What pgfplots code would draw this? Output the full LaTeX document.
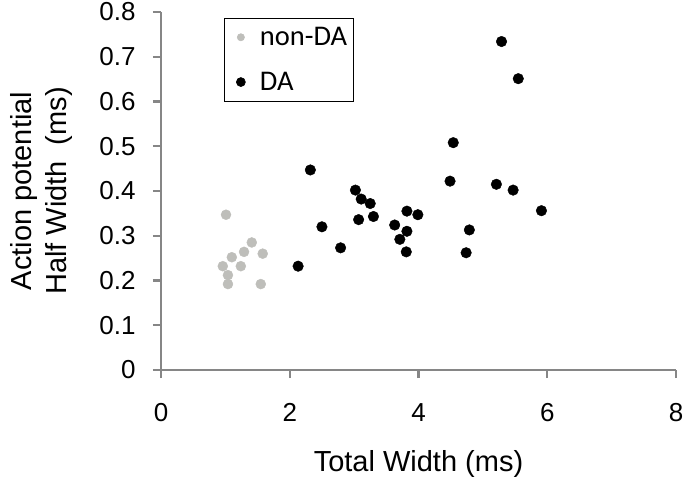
\documentclass[border=0pt]{standalone}
\usepackage{fontspec}
\setmainfont{Liberation Sans}
\newfontfamily\legfont{Carlito}
\usepackage{pgfplots}
\pgfplotsset{compat=1.18}
\definecolor{axgray}{RGB}{134,134,134}
\definecolor{ptgray}{RGB}{190,190,186}
\begin{document}
\begin{tikzpicture}
\useasboundingbox (-161pt,-117pt) rectangle (524pt,370pt);
\begin{axis}[
  at={(0,0)}, anchor=south west,
  scale only axis, width=515pt, height=358pt,
  xmin=0, xmax=8, ymin=0, ymax=0.8,
  xtick={0,2,4,6,8},
  ytick={0,0.1,0.2,0.3,0.4,0.5,0.6,0.7,0.8},
  axis x line*=bottom, axis y line*=left,
  axis line style={axgray, line width=2.4pt, -},
  tick style={axgray, line width=2.4pt},
  major tick length=8pt, tick align=outside,
  /pgf/number format/assume math mode=true,
  ticklabel style={font=\fontsize{26}{30}\selectfont},
  xticklabel style={yshift=-22pt},
  yticklabel style={xshift=-14pt},
  xlabel={Total Width (ms)},
  ylabel={Action potential\\Half Width~~(ms)},
  xlabel style={at={(rel axis cs:0.5,0)}, anchor=center, yshift=-94pt},
  ylabel style={align=center, at={(rel axis cs:0,0.5)}, anchor=center, yshift=120pt},
  label style={font=\fontsize{29}{35}\selectfont},
  legend image code/.code={\path[draw=none,fill=none] (0pt,-5pt) rectangle (30pt,5pt); \draw[#1] plot coordinates {(13pt,0pt)};},
  legend style={at={(rel axis cs:0.1215,0.983)}, anchor=north west, draw=black, line width=0.6pt,
    font=\legfont\fontsize{28.5}{33}\selectfont, row sep=21pt, inner xsep=4pt, inner ysep=7pt},
  legend cell align=left,
  clip=false,
]
\addplot[only marks, mark=*, mark size=5pt, color=ptgray, mark options={draw=ptgray, fill=ptgray},
  legend image post style={mark size=3.6pt}] table {
x y
1.01 0.347
1.41 0.285
1.29 0.264
1.58 0.260
1.10 0.252
0.96 0.232
1.24 0.232
1.04 0.212
1.04 0.192
1.55 0.192
};
\addlegendentry{non-DA\hspace{7pt}}
\addplot[only marks, mark=*, mark size=5.3pt, color=black, mark options={draw=black, fill=black},
  legend image post style={mark size=4.5pt}] table {
x y
2.32 0.447
4.49 0.422
3.02 0.402
3.11 0.382
3.25 0.372
3.82 0.355
3.99 0.347
3.30 0.343
3.07 0.336
3.63 0.324
2.50 0.320
3.82 0.310
3.71 0.292
2.79 0.273
3.81 0.264
2.13 0.232
5.29 0.734
5.55 0.651
4.54 0.508
5.21 0.415
5.47 0.402
5.91 0.356
4.79 0.313
4.74 0.262
};
\addlegendentry{DA}
\end{axis}
\end{tikzpicture}
\end{document}
